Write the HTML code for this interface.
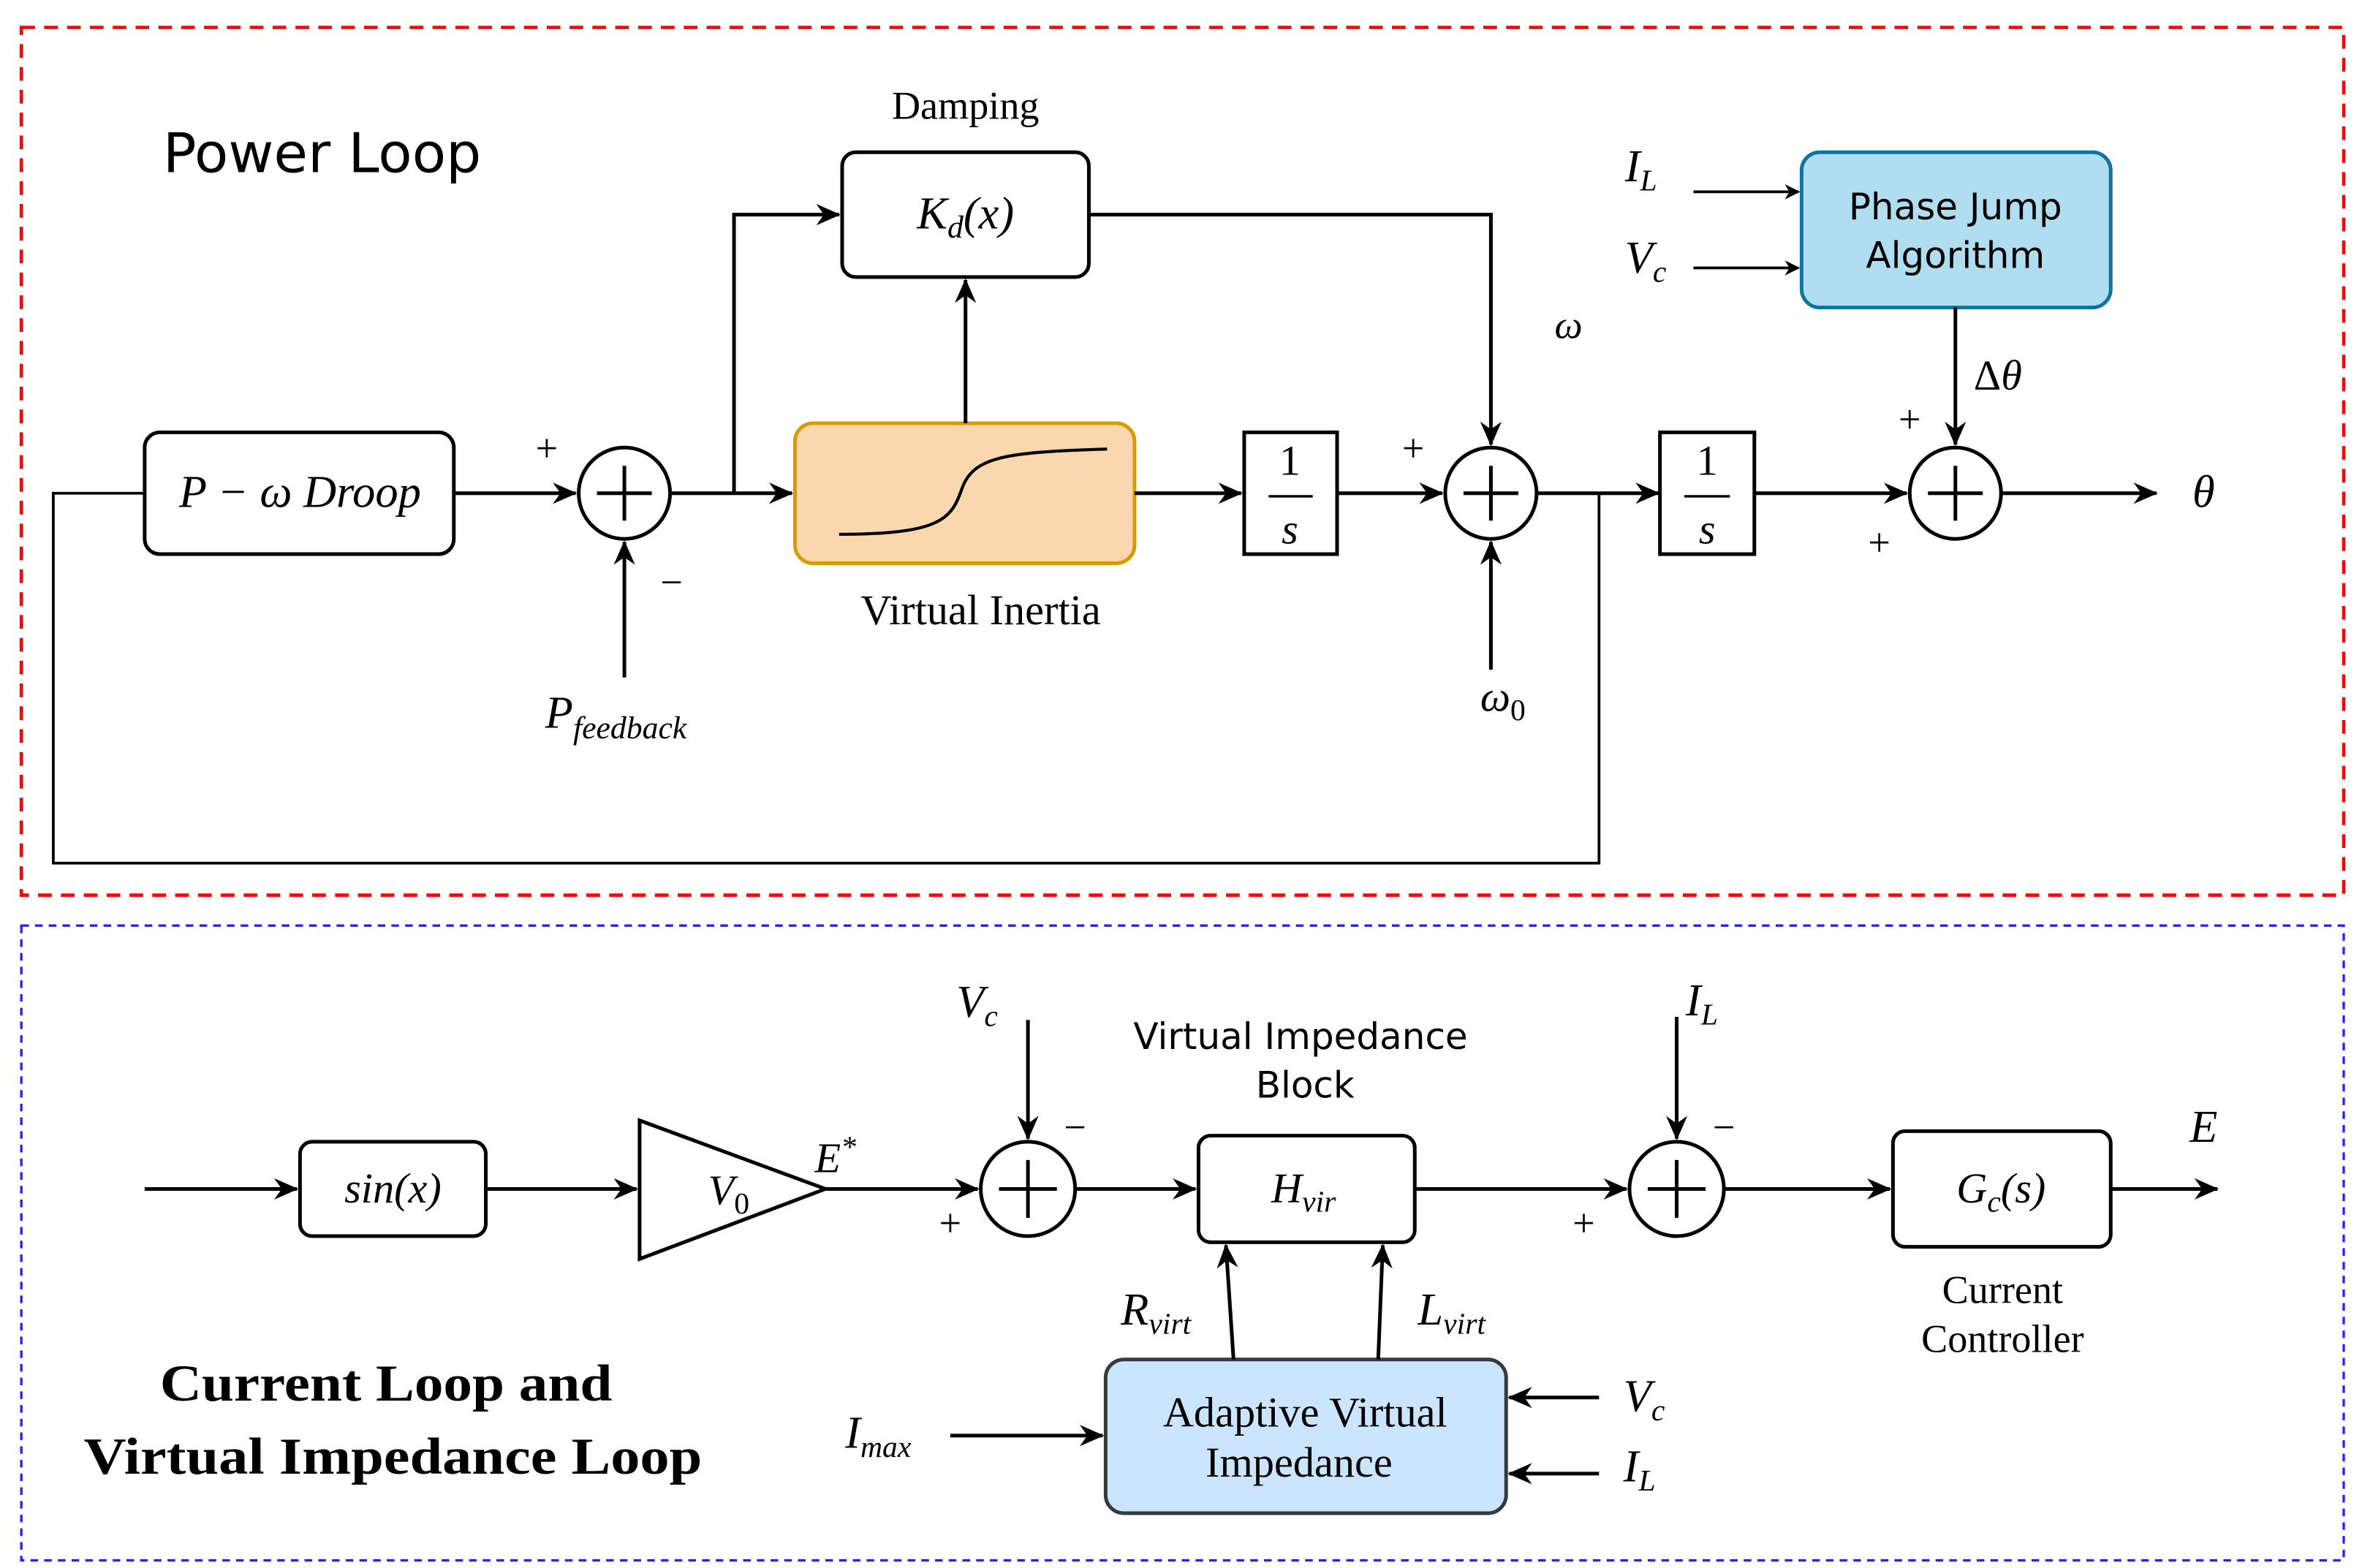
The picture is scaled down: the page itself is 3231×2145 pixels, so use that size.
<!DOCTYPE html>
<html><head><meta charset="utf-8"><style>
html,body{margin:0;padding:0;background:#fff;}
svg{display:block;}
.m{font-family:"Liberation Serif",serif;font-style:italic;}
.s{font-family:"Liberation Serif",serif;}
.d{font-family:"DejaVu Sans","Liberation Sans",sans-serif;}
</style></head><body>
<svg width="3231" height="2145" viewBox="0 0 1551 1030" preserveAspectRatio="none" xmlns="http://www.w3.org/2000/svg">
<defs>
<marker id="a" markerWidth="10" markerHeight="10" refX="9" refY="5" orient="auto" markerUnits="userSpaceOnUse"><path d="M0,0 L10,5 L0,10 L3,5 z" fill="#000"/></marker>
<marker id="b" markerWidth="16" markerHeight="14" refX="15" refY="7" orient="auto" markerUnits="userSpaceOnUse"><path d="M0,0 L16,7 L0,14 L5,7 z" fill="#000"/></marker>
</defs>
<rect width="1551" height="1030" fill="#fff"/>
<rect x="14" y="18" width="1525" height="570" fill="none" stroke="#f00" stroke-width="2.2" stroke-dasharray="9,6"/>
<rect x="14" y="608" width="1525" height="417" fill="none" stroke="#22f" stroke-width="1.6" stroke-dasharray="5,4"/>

<g stroke="#000" stroke-width="2.4" fill="none">
<rect x="95" y="284" width="203" height="80" rx="10"/>
<path d="M95,324 H35 V567 H1050 V324" stroke-width="1.8"/>
<path d="M298,324 H378" marker-end="url(#b)"/>
<circle cx="410" cy="324" r="30"/>
<path d="M392,324 H428 M410,306 V342"/>
<path d="M410,445 V356" marker-end="url(#b)"/>
<path d="M440,324 H520" marker-end="url(#b)"/>
<path d="M482,324 V141 H551" marker-end="url(#b)"/>
<rect x="553" y="100" width="162" height="82" rx="9"/>
<rect x="522" y="278" width="223" height="92" rx="12" fill="#fad7ac" stroke="#d79b00"/>
<path d="M551,351 C620,351 625,340 632,320 C640,300 660,297 727,295" stroke-width="2"/>
<path d="M634,278 V184" marker-end="url(#b)"/>
<path d="M745,324 H815" marker-end="url(#b)"/>
<rect x="817" y="284" width="61" height="80"/>
<path d="M833,326 H862" stroke-width="1.6"/>
<path d="M878,324 H947" marker-end="url(#b)"/>
<circle cx="979" cy="324" r="30"/>
<path d="M961,324 H997 M979,306 V342"/>
<path d="M715,141 H979 V292" marker-end="url(#b)"/>
<path d="M979,440 V356" marker-end="url(#b)"/>
<path d="M1009,324 H1089" marker-end="url(#b)"/>
<rect x="1090" y="284" width="62" height="80"/>
<path d="M1106,326 H1136" stroke-width="1.6"/>
<path d="M1152,324 H1252" marker-end="url(#b)"/>
<circle cx="1284" cy="324" r="30"/>
<path d="M1266,324 H1302 M1284,306 V342"/>
<path d="M1314,324 H1416" marker-end="url(#b)"/>
<rect x="1183" y="100" width="203" height="102" rx="12" fill="#b1ddf0" stroke="#10739e"/>
<path d="M1112,126 H1181" stroke-width="1.8" marker-end="url(#a)"/>
<path d="M1112,176 H1181" stroke-width="1.8" marker-end="url(#a)"/>
<path d="M1284,202 V292" marker-end="url(#b)"/>
<path d="M95,781 H195" marker-end="url(#b)"/>
<rect x="197" y="750" width="122" height="62" rx="8"/>
<path d="M319,781 H418" marker-end="url(#b)"/>
<path d="M420,736 L542,781 L420,827 z"/>
<path d="M542,781 H642" marker-end="url(#b)"/>
<circle cx="675" cy="781" r="31"/>
<path d="M656,781 H694 M675,762 V800"/>
<path d="M675,670 V748" marker-end="url(#b)"/>
<path d="M706,781 H785" marker-end="url(#b)"/>
<rect x="787" y="746" width="142" height="70" rx="8"/>
<path d="M929,781 H1068" marker-end="url(#b)"/>
<circle cx="1101" cy="781" r="31"/>
<path d="M1082,781 H1120 M1101,762 V800"/>
<path d="M1101,668 V748" marker-end="url(#b)"/>
<path d="M1132,781 H1241" marker-end="url(#b)"/>
<rect x="1243" y="743" width="143" height="76" rx="8"/>
<path d="M1386,781 H1456" marker-end="url(#b)"/>
<rect x="726" y="893" width="263" height="101" rx="12" fill="#cce5ff" stroke="#36393d"/>
<path d="M810,893 L805,818" marker-end="url(#b)"/>
<path d="M905,893 L908,818" marker-end="url(#b)"/>
<path d="M624,943 H724" marker-end="url(#b)"/>
<path d="M1050,918 H991" marker-end="url(#b)"/>
<path d="M1050,968 H991" marker-end="url(#b)"/>
</g>

<g fill="#000">
<text x="107" y="113" class="d" font-size="36" textLength="209" lengthAdjust="spacingAndGlyphs">Power Loop</text>
<text x="634" y="78" class="s" font-size="26" text-anchor="middle">Damping</text>
<text x="197" y="333" class="m" font-size="30" text-anchor="middle">P − ω Droop</text>
<text x="359" y="303" class="s" font-size="26" text-anchor="middle">+</text>
<text x="441" y="391" class="s" font-size="26" text-anchor="middle">−</text>
<text x="358" y="478" class="m" font-size="30">P<tspan font-size="21" dy="7">feedback</tspan></text>
<text x="634" y="150" class="m" font-size="30" text-anchor="middle">K<tspan font-size="21" dy="6">d</tspan><tspan dy="-6">(x)</tspan></text>
<text x="644" y="410" class="s" font-size="28" text-anchor="middle">Virtual Inertia</text>
<text x="847" y="312" class="s" font-size="28" text-anchor="middle">1</text>
<text x="847" y="357" class="m" font-size="28" text-anchor="middle">s</text>
<text x="1121" y="312" class="s" font-size="28" text-anchor="middle">1</text>
<text x="1121" y="357" class="m" font-size="28" text-anchor="middle">s</text>
<text x="928" y="303" class="s" font-size="26" text-anchor="middle">+</text>
<text x="1030" y="222" class="m" font-size="26" text-anchor="middle">ω</text>
<text x="972" y="467" class="m" font-size="28">ω<tspan class="s" font-style="normal" font-size="20" dy="6">0</tspan></text>
<text x="1067" y="119" class="m" font-size="30">I<tspan font-size="20" dy="6">L</tspan></text>
<text x="1067" y="179" class="m" font-size="30">V<tspan font-size="20" dy="6">c</tspan></text>
<text x="1284" y="144" class="d" font-size="24" text-anchor="middle">Phase Jump</text>
<text x="1284" y="176" class="d" font-size="24" text-anchor="middle">Algorithm</text>
<text x="1296" y="256" class="s" font-size="28">Δ<tspan class="m">θ</tspan></text>
<text x="1254" y="284" class="s" font-size="26" text-anchor="middle">+</text>
<text x="1234" y="365" class="s" font-size="26" text-anchor="middle">+</text>
<text x="1447" y="333" class="m" font-size="30" text-anchor="middle">θ</text>

<text x="258" y="790" class="m" font-size="28" text-anchor="middle">sin(x)</text>
<text x="465" y="791" class="m" font-size="28">V<tspan class="s" font-style="normal" font-size="20" dy="6">0</tspan></text>
<text x="535" y="770" class="m" font-size="28">E<tspan font-size="20" dy="-10">*</tspan></text>
<text x="628" y="668" class="m" font-size="30">V<tspan font-size="20" dy="6">c</tspan></text>
<text x="706" y="749" class="s" font-size="26" text-anchor="middle">−</text>
<text x="624" y="812" class="s" font-size="26" text-anchor="middle">+</text>
<text x="854" y="689" class="d" font-size="24" text-anchor="middle">Virtual Impedance</text>
<text x="857" y="721" class="d" font-size="24" text-anchor="middle">Block</text>
<text x="856" y="790" class="m" font-size="28" text-anchor="middle">H<tspan font-size="20" dy="6">vir</tspan></text>
<text x="1107" y="667" class="m" font-size="30">I<tspan font-size="20" dy="6">L</tspan></text>
<text x="1132" y="749" class="s" font-size="26" text-anchor="middle">−</text>
<text x="1040" y="812" class="s" font-size="26" text-anchor="middle">+</text>
<text x="1314" y="790" class="m" font-size="28" text-anchor="middle">G<tspan font-size="20" dy="6">c</tspan><tspan dy="-6">(s)</tspan></text>
<text x="1447" y="750" class="m" font-size="30" text-anchor="middle">E</text>
<text x="1315" y="856" class="s" font-size="26" text-anchor="middle">Current</text>
<text x="1315" y="888" class="s" font-size="26" text-anchor="middle">Controller</text>
<text x="736" y="870" class="m" font-size="30">R<tspan font-size="20" dy="6">virt</tspan></text>
<text x="931" y="870" class="m" font-size="30">L<tspan font-size="20" dy="6">virt</tspan></text>
<text x="857" y="937" class="s" font-size="28" text-anchor="middle">Adaptive Virtual</text>
<text x="853" y="970" class="s" font-size="28" text-anchor="middle">Impedance</text>
<text x="555" y="951" class="m" font-size="30">I<tspan font-size="20" dy="6">max</tspan></text>
<text x="1066" y="927" class="m" font-size="30">V<tspan font-size="20" dy="6">c</tspan></text>
<text x="1066" y="973" class="m" font-size="30">I<tspan font-size="20" dy="6">L</tspan></text>
<text x="105" y="920" class="s" font-size="34" font-weight="bold" textLength="297" lengthAdjust="spacingAndGlyphs">Current Loop and</text>
<text x="55" y="968" class="s" font-size="34" font-weight="bold" textLength="406" lengthAdjust="spacingAndGlyphs">Virtual Impedance Loop</text>
</g>
</svg>
</body></html>
